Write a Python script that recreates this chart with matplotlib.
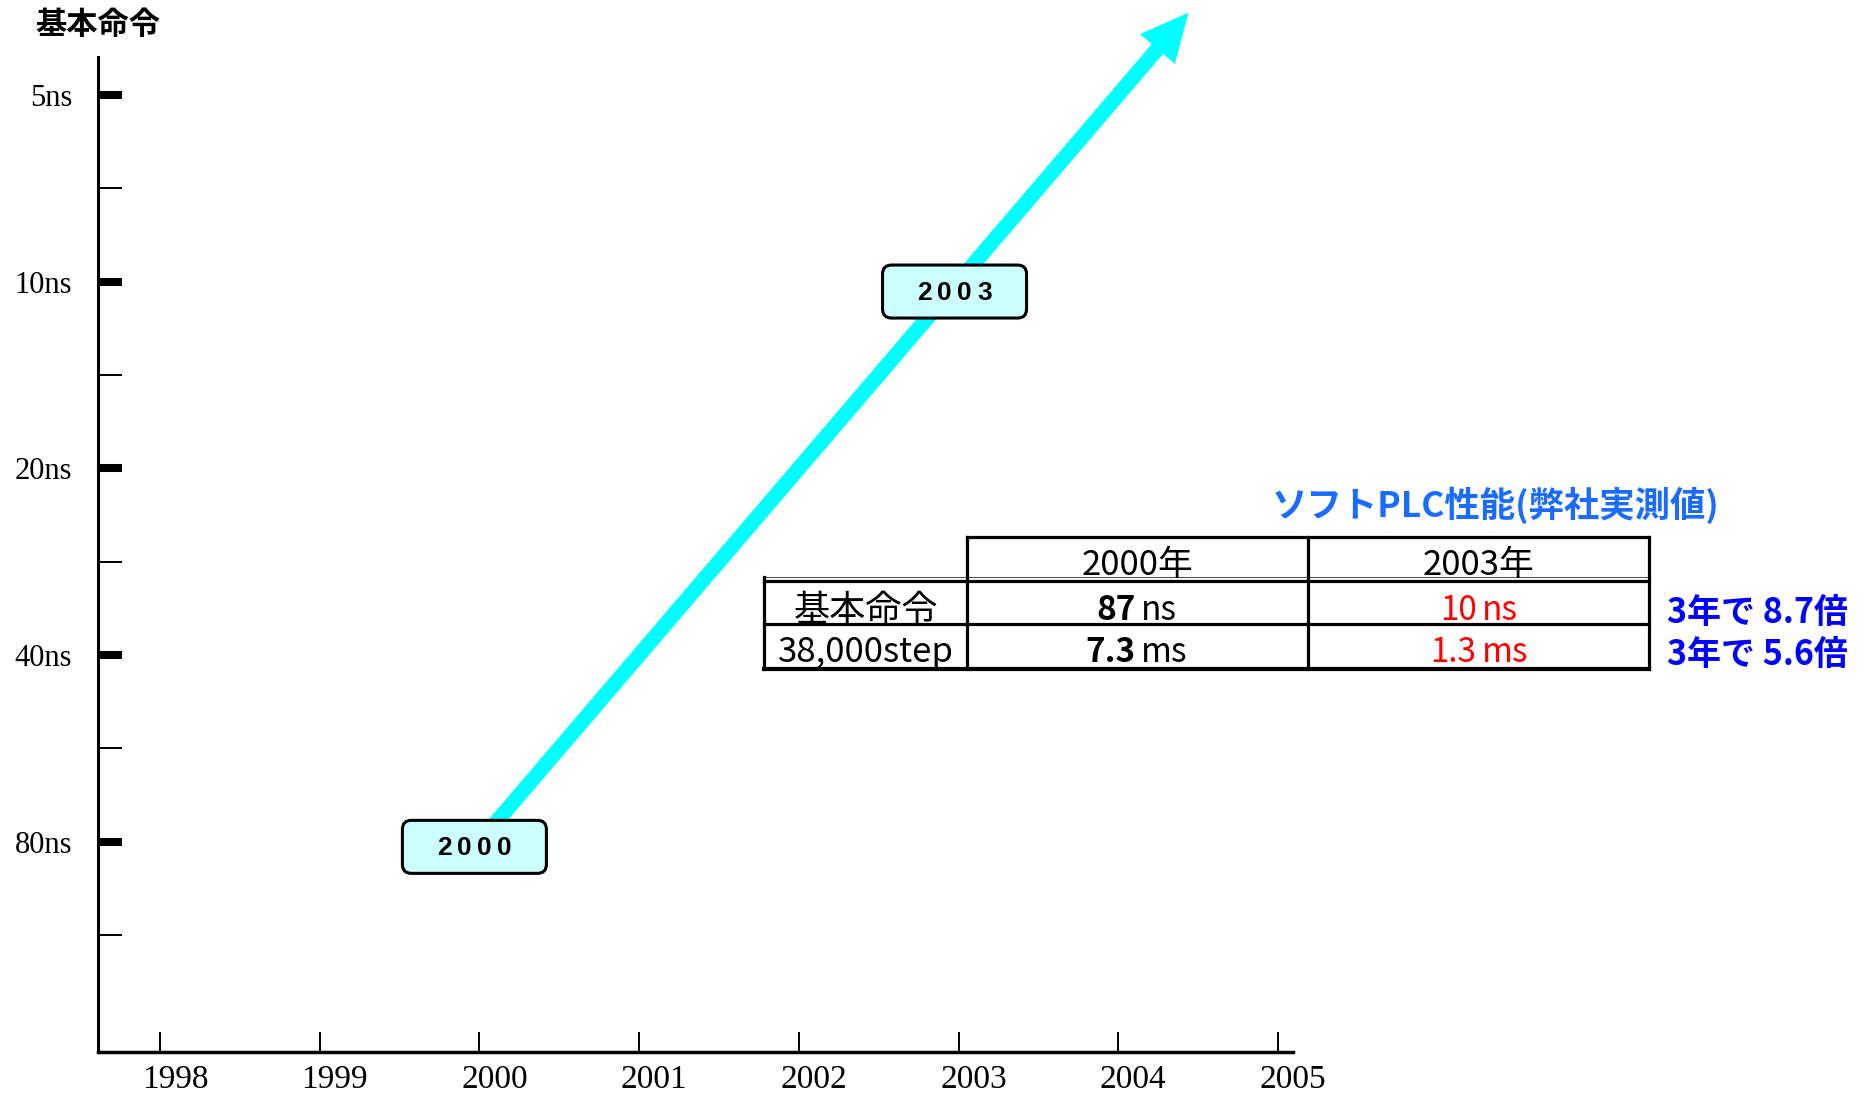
import numpy as np
import matplotlib
matplotlib.use('Agg')
import matplotlib.pyplot as plt
from matplotlib.patches import FancyBboxPatch, FancyArrowPatch
from matplotlib.ticker import NullFormatter
from matplotlib.transforms import ScaledTranslation

plt.rcParams['font.family'] = ['Noto Sans CJK JP', 'DejaVu Sans']

# ---------------- data ----------------
years = [1998, 1999, 2000, 2001, 2002, 2003, 2004, 2005]
year_labels = [str(y) for y in years]
ns_ticks = [5, 10, 20, 40, 80]
ns_labels = ['5ns', '10ns', '20ns', '40ns', '80ns']
axis_title = '基本命令'

point_years = [2000, 2003]
point_ns = [80, 10]
point_labels = ['2000', '2003']

table_title = 'ソフトPLC性能(弊社実測値)'
col_headers = ['2000年', '2003年']
row_labels = ['基本命令', '38,000step']
vals_2000 = ['87', '7.3']
vals_2003 = ['10', '1.3']
units = ['ns', 'ms']
ratios = ['3年で 8.7倍', '3年で 5.6倍']

# ---------------- figure ----------------
W, H = 1867, 1093
fig = plt.figure(figsize=(W / 100, H / 100), dpi=100)
fig.patch.set_facecolor('white')

ax = fig.add_axes([98 / W, 1 - 1052 / H, (1293 - 98) / W, (1052 - 57) / H])
ax.set_yscale('log', base=2)
ax.set_xlim(1997.612, 2005.094)
ax.set_ylim(174.5, 4.346)
for s in ['top', 'right']:
    ax.spines[s].set_visible(False)
ax.spines['left'].set_linewidth(2.2)
ax.spines['bottom'].set_linewidth(2.5)
ax.xaxis.set_ticks_position('bottom')
ax.yaxis.set_ticks_position('left')

ax.set_xticks(years, year_labels)
ax.set_yticks(ns_ticks, ns_labels)
minor = [np.sqrt(a * b) for a, b in zip(ns_ticks, ns_ticks[1:] + [ns_ticks[-1] * 2])]
ax.set_yticks(minor, minor=True)
ax.yaxis.set_minor_formatter(NullFormatter())
ax.xaxis.set_minor_formatter(NullFormatter())
ax.tick_params(axis='x', which='major', direction='in', length=14.4, width=1.4,
               pad=9, labelsize=24, labelfontfamily='Liberation Serif')
ax.tick_params(axis='x', which='minor', length=0)
ax.tick_params(axis='y', which='major', direction='in', length=17.3, width=5.8,
               pad=18.5, labelsize=22, labelfontfamily='Liberation Serif')
ax.tick_params(axis='y', which='minor', direction='in', length=17.3, width=1.4)
shift = ScaledTranslation(15 / 100, 0, fig.dpi_scale_trans)
for lbl in ax.get_xticklabels():
    lbl.set_transform(lbl.get_transform() + shift)

# overlay in pixel coordinates
ax2 = fig.add_axes([0, 0, 1, 1])
ax2.set_xlim(0, W)
ax2.set_ylim(H, 0)
ax2.axis('off')


def to_px(x, y):
    dx, dy = ax.transData.transform((x, y))
    return np.array([dx, H - dy])


ax2.text(98, 25, axis_title, ha='center', va='center', fontsize=22.5, fontweight='bold')

# arrow through the two points
p0 = to_px(point_years[0], point_ns[0])
p1 = to_px(point_years[1], point_ns[1])
tip = p0 + 1.48 * (p1 - p0)
arr = FancyArrowPatch(tuple(p0), tuple(tip),
                      arrowstyle='simple,head_length=3.45,head_width=3.3,tail_width=1.08',
                      mutation_scale=10, color='#00ffff', lw=0, shrinkA=0, shrinkB=0, zorder=2)
ax2.add_patch(arr)

# year boxes
box_nudge = [(-5, 5), (-4, 10)]
for (yr, v, lab), (nx, ny) in zip(zip(point_years, point_ns, point_labels), box_nudge):
    cx, cy = to_px(yr, v)
    cx, cy = cx + nx, cy + ny
    bw, bh = 144, 53
    box = FancyBboxPatch((cx - bw / 2, cy - bh / 2), bw, bh,
                         boxstyle='round,pad=0,rounding_size=9',
                         fc='#ccffff', ec='black', lw=2.2, zorder=3)
    ax2.add_patch(box)
    for i, ch in enumerate(lab):
        ax2.text(cx + (i - 1.5) * 20, cy + 1, ch, ha='center', va='center',
                 fontsize=19, fontweight='bold',
                 family=['Liberation Sans', 'DejaVu Sans'], zorder=4)

# ---------------- table ----------------
x0, x1, x2, x3 = 764, 967, 1308, 1649
yh, yd, yr1, yb = 537, 581, 624, 669
lw = 2.3
kw = dict(color='black', solid_capstyle='projecting')
ax2.plot([x1, x3], [yh, yh], lw=lw, **kw)
ax2.plot([x0, x3], [yd - 4, yd - 4], lw=0.8, color='#555555')
ax2.plot([x0, x3], [yd, yd], lw=lw, **kw)
ax2.plot([x0, x3], [yr1, yr1], lw=lw, **kw)
ax2.plot([x0, x3], [yb, yb], lw=3.0, **kw)
ax2.plot([x0, x0], [yd - 4, yb], lw=lw, **kw)
for xv in (x1, x2, x3):
    ax2.plot([xv, xv], [yh, yb], lw=lw, **kw)

ax2.text(1272, 505, table_title, ha='left', va='center', fontsize=25.5,
         fontweight='bold', color='#1a6cff')

col_c = [(x1 + x2) / 2, (x2 + x3) / 2]
for c, h in zip(col_c, col_headers):
    ax2.text(c, 565, h, ha='center', va='center', fontsize=25)

row_c = [611, 653]
row_fs = [26, 25]
for r, lab, fs in zip(row_c, row_labels, row_fs):
    ax2.text((x0 + x1) / 2, r, lab, ha='center', va='center', fontsize=fs)

for r, a, b, u in zip(row_c, vals_2000, vals_2003, units):
    ax2.text(col_c[0] - 2, r, a, ha='right', va='center', fontsize=24, fontweight='bold')
    ax2.text(col_c[0] + 3, r, u, ha='left', va='center', fontsize=24)
    ax2.text(col_c[1] - 2, r, b, ha='right', va='center', fontsize=24, color='#ff0000')
    ax2.text(col_c[1] + 3, r, u, ha='left', va='center', fontsize=24, color='#ff0000')

for r, t in zip([612, 655], ratios):
    ax2.text(1667, r, t, ha='left', va='center', fontsize=24.5, fontweight='bold', color='#0000ff')

fig.savefig('out.png', dpi=100, facecolor='white')
